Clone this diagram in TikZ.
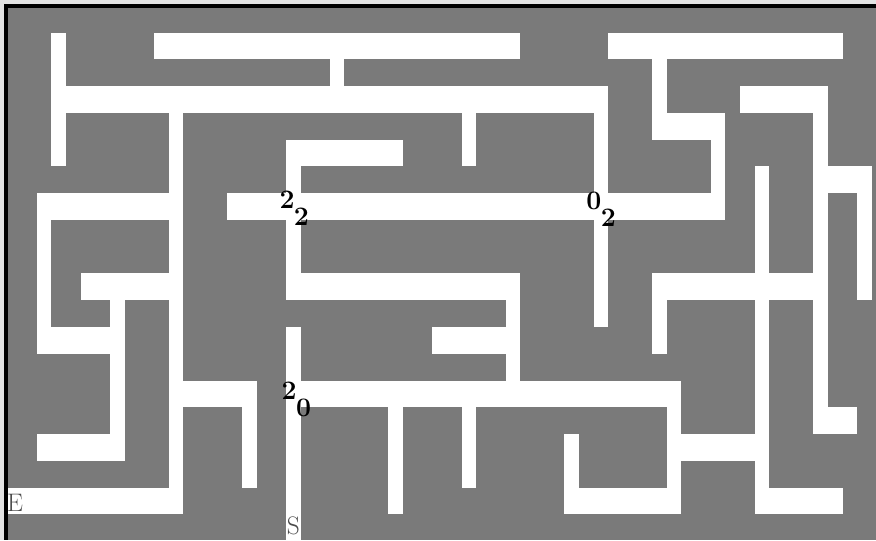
\documentclass[tikz,border=0pt]{standalone}
\usetikzlibrary{positioning}
\definecolor{MazeGray}{RGB}{122,122,122}
\definecolor{PaperGray}{RGB}{228,228,228}
\tikzset{
  corridor/.style={fill=white},
  cellnum/.style={inner sep=0pt,anchor=north west,
    font=\fontsize{20}{20}\selectfont\bfseries},
  endmark/.style={inner sep=0pt,anchor=north west,text=black!70,
    font=\fontsize{19}{19}\selectfont},
}
\newcommand\pairnum[2]{#1\kern-0.5pt\lower12.5pt\hbox{#2}}

\begin{document}
\begin{tikzpicture}[x=10.9875pt,y=-20.0625pt]
  \useasboundingbox (-0.512,-0.2243) rectangle (59.283,19.963);
  \fill[PaperGray] (-0.512,-0.2243) rectangle (59.283,19.963);
  \fill[MazeGray] (-0.25,-0.06) rectangle (59.283,19.963);
  % frame on top and left
  \fill[black] (-0.25,-0.06) rectangle (59.283,0.075);
  \fill[black] (-0.25,-0.06) rectangle (0,19.963);
  % corridors: column/row of the two corners
  \foreach \xa/\ya/\xb/\yb in {
      10/1/35/2, 41/1/57/2, 3/1/4/6, 22/2/23/3, 3/3/41/4, 31/4/32/6,
      11/4/12/19, 19/5/27/6, 19/5/20/11, 15/7/49/8, 2/7/11/8, 2/7/3/13,
      2/12/7/13, 5/10/11/11, 7/10/8/17, 2/16/8/17, 0/18/12/19,
      12/14/17/15, 16/15/17/18, 19/12/20/19.963, 19/10/35/11,
      34/10/35/14, 29/12/34/13, 19/14/46/15, 26/15/27/19, 31/15/32/18,
      38/16/39/19, 38/18/46/19, 45/14/46/19, 46/16/51/17, 51/6/52/19,
      51/18/57/19, 40/3/41/12, 44/2/45/5, 44/4/49/5, 48/4/49/8,
      50/3/56/4, 55/3/56/16, 56/6/59/7, 58/6/59/11, 55/15/58/16,
      44/10/56/11, 44/10/45/13}
    \fill[corridor] (\xa,\ya) rectangle (\xb,\yb);
  % cell numbers and the two ends
  \node[cellnum] (n22) at (18.55,6.92) {\pairnum{2}{2}};
  \node[cellnum] (n02) at (39.5,6.95) {\pairnum{0}{2}};
  \node[cellnum] (n20) at (18.7,14.05) {\pairnum{2}{0}};
  \node[endmark] (exit) at (-0.05,18.25) {E};
  \node[endmark] (start) at (19.05,19.1) {S};
\end{tikzpicture}
\end{document}
